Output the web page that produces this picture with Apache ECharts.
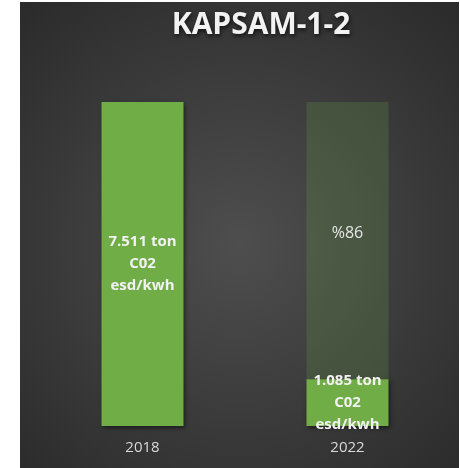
<!DOCTYPE html>
<html>
<head>
<meta charset="utf-8">
<script src="https://cdn.jsdelivr.net/npm/echarts@6/dist/echarts.min.js"></script>
<style>
  html, body { margin: 0; padding: 0; background: #ffffff; }
  #chart { position: absolute; left: 20px; top: 2px; width: 439px; height: 466px; }
</style>
</head>
<body>
<div id="chart"></div>
<script>
// categories and values
var years = ['2018', '2022'];
var emissions = [7.511, 1.085];        // ton C02 esd/kwh
var reduction = [null, 6.426];         // ghost part up to 2018 level
var emissionLabels = ['7.511 ton\nC02\nesd/kwh', '1.085 ton\nC02\nesd/kwh'];
var reductionLabels = ['', '%86'];

var chart = echarts.init(document.getElementById('chart'));

var option = {
  backgroundColor: {
    type: 'radial', x: 0.5, y: 0.52, r: 0.75,
    colorStops: [
      { offset: 0, color: '#4e4e4e' },
      { offset: 1, color: '#2a2a2a' }
    ]
  },
  title: {
    text: 'KAPSAM-1-2',
    left: 236,
    top: 3,
    textAlign: 'center',
    textStyle: {
      fontFamily: 'Open Sans',
      fontWeight: 'bold',
      fontSize: 30,
      color: '#f2f2f2',
      textShadowColor: 'rgba(0,0,0,0.7)',
      textShadowBlur: 4,
      textShadowOffsetX: 1,
      textShadowOffsetY: 2
    }
  },
  grid: { left: 20, right: 9, top: 100, bottom: 42 },
  xAxis: {
    type: 'category',
    data: years,
    axisLine: { show: false },
    axisTick: { show: false },
    axisLabel: {
      color: '#d9d9d9',
      fontFamily: 'Open Sans',
      fontSize: 15,
      margin: 14
    }
  },
  yAxis: {
    type: 'value',
    min: 0,
    max: 'dataMax',
    show: false,
    splitLine: { show: false }
  },
  series: [
    {
      type: 'bar',
      stack: 'total',
      barWidth: '40%',
      data: emissions.map(function (v, i) {
        return { value: v, label: { formatter: emissionLabels[i] } };
      }),
      itemStyle: {
        color: '#70ad47',
        shadowColor: 'rgba(0,0,0,0.5)',
        shadowBlur: 4,
        shadowOffsetX: 1,
        shadowOffsetY: 2
      },
      label: {
        show: true,
        position: 'inside',
        color: '#f2f2f2',
        fontFamily: 'Open Sans',
        fontWeight: 'bold',
        fontSize: 15,
        lineHeight: 22
      }
    },
    {
      type: 'bar',
      stack: 'total',
      barWidth: '40%',
      data: reduction.map(function (v, i) {
        return { value: v, label: { formatter: reductionLabels[i] } };
      }),
      itemStyle: {
        color: 'rgba(112,173,71,0.2)'
      },
      label: {
        show: true,
        position: 'inside',
        offset: [0, -7],
        color: '#e6e6e6',
        fontFamily: 'Open Sans',
        fontSize: 16
      }
    }
  ]
};

chart.setOption(option);
</script>
</body>
</html>
